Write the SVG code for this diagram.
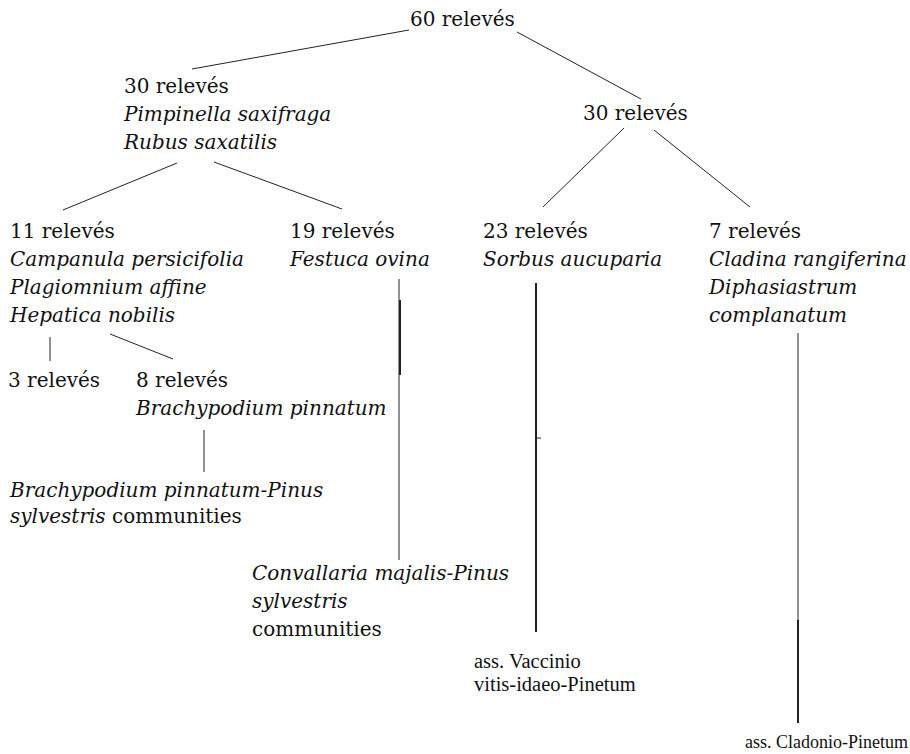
<svg xmlns="http://www.w3.org/2000/svg" width="910" height="754" viewBox="0 0 910 754">
<style>
text{font-family:"DejaVu Serif","Liberation Serif",serif;font-size:20px;fill:#111}
.i{font-style:italic}
.a{font-family:"Liberation Serif","Times New Roman",serif;font-size:20.5px}
.b{font-size:18px}
.c line{stroke:#222;stroke-width:1}
.c .t{stroke-width:2}
</style>
<rect width="910" height="754" fill="#fff"/>
<g class="c" id="connectors">
<line x1="409" y1="30" x2="192" y2="69"/>
<line x1="517" y1="32" x2="641" y2="99"/>
<line x1="177" y1="163" x2="63" y2="210"/>
<line x1="214" y1="162" x2="342" y2="209"/>
<line x1="624" y1="128" x2="543" y2="207"/>
<line x1="654" y1="130" x2="750" y2="207"/>
<line x1="50" y1="337" x2="50" y2="361"/>
<line x1="110" y1="334" x2="173" y2="359"/>
<line x1="204" y1="430" x2="204" y2="472"/>
<line x1="399" y1="279" x2="399" y2="560"/>
<line class="t" x1="400" y1="300" x2="400" y2="375"/>
<line class="t" x1="536" y1="283" x2="536" y2="632"/>
<line x1="536" y1="438" x2="541" y2="438"/>
<line x1="798" y1="333" x2="798" y2="620"/>
<line class="t" x1="798" y1="620" x2="798" y2="723"/>
</g>
<g id="n60"><text x="410" y="26">60 relevés</text></g>
<g id="n30a"><text x="124" y="93">30 relevés</text><text class="i" x="124" y="121">Pimpinella saxifraga</text><text class="i" x="124" y="149">Rubus saxatilis</text></g>
<g id="n30b"><text x="583" y="120">30 relevés</text></g>
<g id="n11"><text x="10" y="238">11 relevés</text><text class="i" x="10" y="266">Campanula persicifolia</text><text class="i" x="10" y="294">Plagiomnium affine</text><text class="i" x="10" y="322">Hepatica nobilis</text></g>
<g id="n19"><text x="290" y="238">19 relevés</text><text class="i" x="290" y="266">Festuca ovina</text></g>
<g id="n23"><text x="483" y="238">23 relevés</text><text class="i" x="483" y="266">Sorbus aucuparia</text></g>
<g id="n7"><text x="709" y="238">7 relevés</text><text class="i" x="709" y="266">Cladina rangiferina</text><text class="i" x="709" y="294">Diphasiastrum</text><text class="i" x="709" y="322">complanatum</text></g>
<g id="n3"><text x="8" y="387">3 relevés</text></g>
<g id="n8"><text x="136" y="387">8 relevés</text><text class="i" x="136" y="415">Brachypodium pinnatum</text></g>
<g id="nBP"><text class="i" x="10" y="497">Brachypodium pinnatum-Pinus</text><text x="10" y="523"><tspan class="i">sylvestris</tspan> communities</text></g>
<g id="nCM"><text class="i" x="252" y="580">Convallaria majalis-Pinus</text><text class="i" x="252" y="608">sylvestris</text><text x="252" y="636">communities</text></g>
<g id="nVV"><text class="a" x="474" y="668">ass. Vaccinio</text><text class="a" x="474" y="691">vitis-idaeo-Pinetum</text></g>
<g id="nCP"><text class="a b" x="745" y="748">ass. Cladonio-Pinetum</text></g>
</svg>
